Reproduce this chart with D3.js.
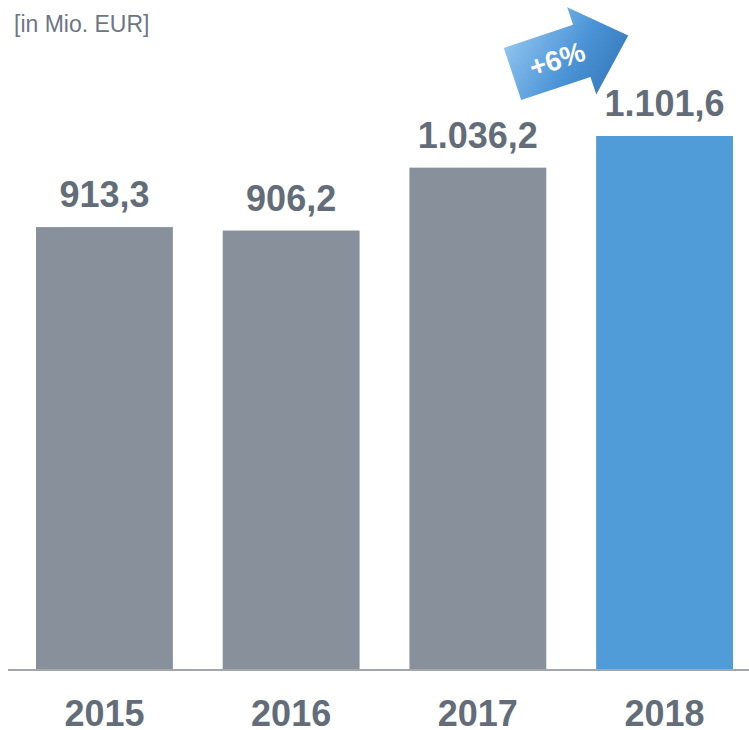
<!DOCTYPE html>
<html>
<head>
<meta charset="utf-8">
<script src="https://cdn.jsdelivr.net/npm/d3@7"></script>
<style>
  body { margin: 0; background: #fff; }
  svg { display: block; font-family: "Liberation Sans", Arial, sans-serif; }
</style>
</head>
<body>
<div class="chart"></div>
<script>
// data
const years = ["2015", "2016", "2017", "2018"]
const values = [913.3, 906.2, 1036.2, 1101.6]
const valueLabels = ["913,3", "906,2", "1.036,2", "1.101,6"]
const unitLabel = "[in Mio. EUR]"
const growthLabel = "+6%"

let width = 749
let height = 730
let baseY = 669

let svg = d3.select(".chart")
    .append("svg")
    .attr("width", width)
    .attr("height", height)

let x = d3.scaleBand()
    .domain(years)
    .range([36, 733])
    .paddingInner(0.267)
    .paddingOuter(0)

let y = d3.scaleLinear()
    .domain([0, 1101.6])
    .range([baseY, 136])

let textColor = "#636d7a"

// unit label top left
svg.append("text")
    .attr("x", 14)
    .attr("y", 32)
    .text(unitLabel)
    .style("font-size", "23px")
    .style("fill", "#6b7686")

// bars
svg.selectAll(".bar")
    .data(years)
    .enter()
    .append("rect")
    .attr("x", d => x(d))
    .attr("y", (d, i) => y(values[i]))
    .attr("width", x.bandwidth())
    .attr("height", (d, i) => baseY - y(values[i]))
    .attr("fill", (d, i) => i === years.length - 1 ? "#4f9cd9" : "#87909b")

// baseline
svg.append("line")
    .attr("x1", 8)
    .attr("x2", width)
    .attr("y1", baseY + 1)
    .attr("y2", baseY + 1)
    .attr("stroke", "#a3a7ac")
    .attr("stroke-width", 2)

// value labels
svg.selectAll(".val")
    .data(years)
    .enter()
    .append("text")
    .attr("x", d => x(d) + x.bandwidth() / 2)
    .attr("y", (d, i) => y(values[i]) - 20)
    .attr("text-anchor", "middle")
    .text((d, i) => valueLabels[i])
    .style("font-size", "36px")
    .style("font-weight", "bold")
    .style("fill", textColor)

// year axis
let axis = svg.append("g")
    .attr("transform", "translate(0," + (baseY + 1) + ")")
    .call(d3.axisBottom(x).tickSize(0).tickPadding(0))
axis.select(".domain").remove()
axis.selectAll("text")
    .attr("dy", null)
    .attr("y", 56)
    .style("font-family", "'Liberation Sans', Arial, sans-serif")
    .style("font-size", "36px")
    .style("font-weight", "bold")
    .style("fill", textColor)

// growth arrow
let defs = svg.append("defs")
let grad = defs.append("linearGradient")
    .attr("id", "arrowGrad")
    .attr("gradientUnits", "userSpaceOnUse")
    .attr("x1", 20).attr("y1", -46)
    .attr("x2", 100).attr("y2", 46)
grad.append("stop").attr("offset", "0%").attr("stop-color", "#8fc4ee")
grad.append("stop").attr("offset", "55%").attr("stop-color", "#4a93d6")
grad.append("stop").attr("offset", "100%").attr("stop-color", "#3577b8")

let arrowPts = [[0, -27.5], [73, -27.5], [73, -46], [122, 0], [73, 46], [73, 27.5], [0, 27.5]]
let arrow = svg.append("g")
    .attr("transform", "translate(512.5,74) rotate(-18.4)")
arrow.append("path")
    .attr("d", d3.line()(arrowPts) + "Z")
    .attr("fill", "url(#arrowGrad)")
arrow.append("text")
    .attr("x", 47)
    .attr("y", 10)
    .attr("text-anchor", "middle")
    .text(growthLabel)
    .style("font-size", "28px")
    .style("font-weight", "bold")
    .style("fill", "#fff")
</script>
</body>
</html>
